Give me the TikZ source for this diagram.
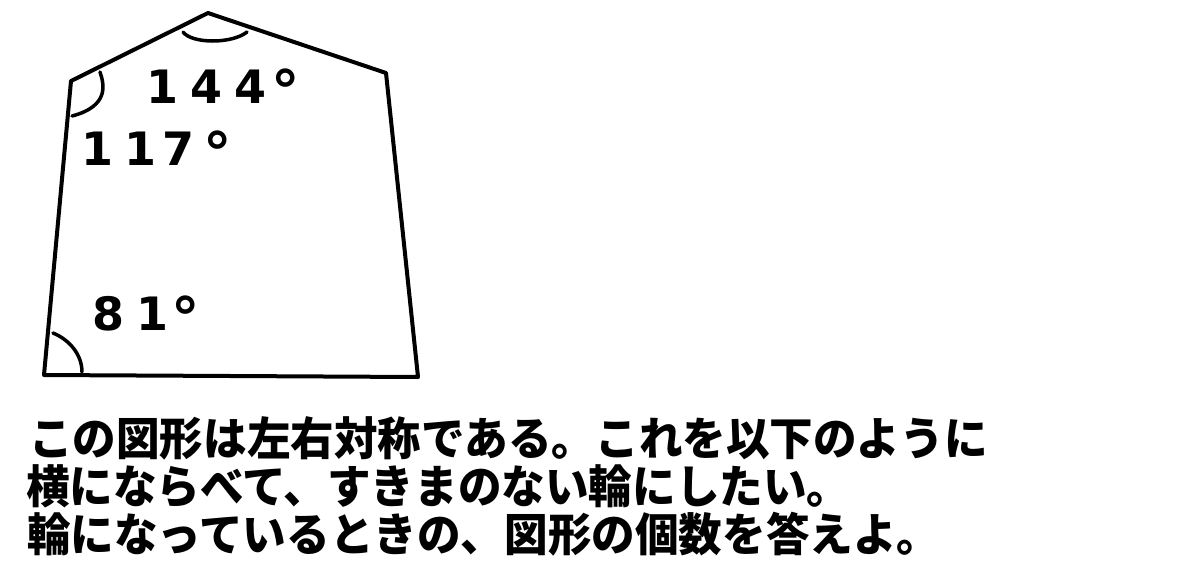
\documentclass[tikz,border=0pt]{standalone}
\usepackage{fontspec}
\newfontfamily\jp{Noto Sans CJK JP}
\newfontfamily\numfont{DejaVu Sans}
\begin{document}
\begin{tikzpicture}[x=1pt,y=-1pt,
  edge/.style={line width=4pt,line join=round,line cap=round},
  anglearc/.style={line width=3.5pt,line cap=round},
  num/.style={inner sep=0pt,anchor=base,font=\numfont\bfseries\fontsize{46}{46}\selectfont},
  degsign/.style={inner sep=0pt,anchor=base,font=\numfont\bfseries\fontsize{57}{57}\selectfont},
  jptext/.style={inner sep=0pt,anchor=base west,font=\jp\bfseries\fontsize{45.5}{45.5}\selectfont}]
\useasboundingbox (0,0) rectangle (1200,560);
\fill[white] (0,0) rectangle (1200,560);
% vertices
\coordinate (BL) at (44,375);
\coordinate (BR) at (418,377);
\coordinate (UR) at (386,73);
\coordinate (T) at (208,13);
\coordinate (UL) at (71,81);
\draw[edge] (BL) -- (BR) -- (UR) -- (T) -- (UL) -- cycle;
% angle marks
\coordinate (ta) at (183,32);
\coordinate (tb) at (247,32);
\draw[anglearc] (ta) .. controls (192,44) and (232,44) .. (tb);
\coordinate (la) at (100,72);
\coordinate (lb) at (72,116);
\draw[anglearc] (la) .. controls (104,84) and (110,106) .. (lb);
\coordinate (ba) at (53,333);
\coordinate (bb) at (82,372);
\draw[anglearc] (ba) .. controls (70,340) and (82,355) .. (bb);
% angle labels: 144
\node[num] (a144a) at (163,103) {1};
\node[num] (a144b) at (206.5,103) {4};
\node[num] (a144c) at (251,103) {4};
\node[degsign] (a144d) at (286,111) {°};
% 117
\node[num] (a117a) at (97.5,165) {1};
\node[num] (a117b) at (141,165) {1};
\node[num] (a117c) at (179,165) {7};
\node[degsign] (a117d) at (217.5,173) {°};
% 81
\node[num] (a81a) at (108.5,330) {8};
\node[num] (a81b) at (152.5,330) {1};
\node[degsign] (a81c) at (186,338) {°};
% question text
\node[jptext] (l1) at (29,455) {\scalebox{0.958}[1]{この図形は左右対称である。これを以下のように}};
\node[jptext] (l2) at (26,503) {\scalebox{0.958}[1]{横にならべて、すきまのない輪にしたい。}};
\node[jptext] (l3) at (27,551) {\scalebox{0.958}[1]{輪になっているときの、図形の個数を答えよ。}};
\end{tikzpicture}
\end{document}
